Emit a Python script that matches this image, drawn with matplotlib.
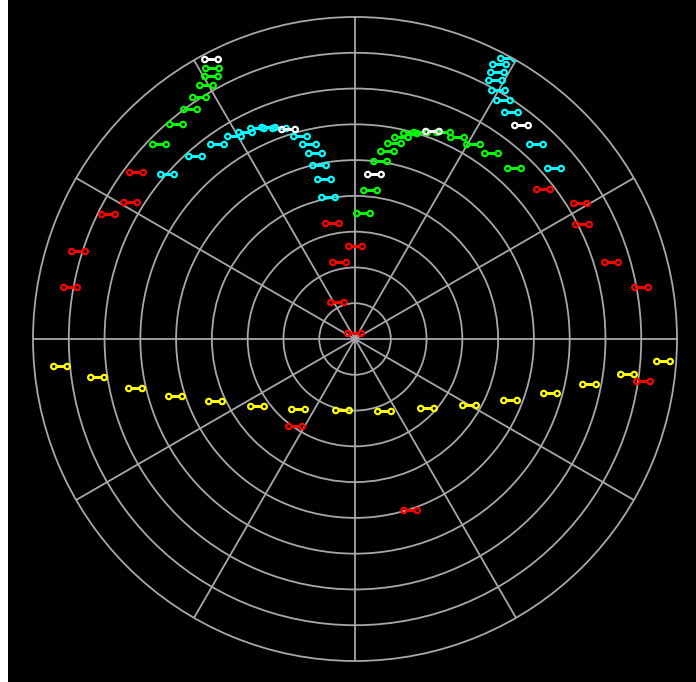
import numpy as np
import matplotlib
matplotlib.use("Agg")
import matplotlib.pyplot as plt
from matplotlib.path import Path
from matplotlib.patches import Rectangle

# angle in degrees (counter-clockwise from east), radius 0..90
red_theta = [142.6, 148.6, 153.1, 162.4, 169.7, 101.4, 90.0, 101.7, 115.7, 95.0,
             38.6, 31.2, 26.9, 16.8, 10.3, 351.8, 235.4, 287.8]
red_r = [77.0, 73.7, 77.5, 81.1, 81.0, 33.2, 26.1, 22.1, 11.4, 1.7,
         67.2, 73.5, 71.2, 74.7, 81.2, 81.4, 29.5, 50.2]

yellow_theta = [185.2, 188.4, 192.5, 197.6, 204.0, 214.4, 231.1, 259.7,
                292.0, 316.0, 330.0, 338.4, 344.4, 349.1, 352.7, 355.9]
yellow_r = [82.8, 73.0, 63.0, 52.8, 42.8, 33.3, 25.2, 20.3,
            21.6, 27.9, 36.9, 46.6, 56.6, 66.7, 76.7, 86.4]

green_theta = [117.7, 118.7, 120.4, 122.7, 125.6, 129.8, 135.1,
               47.0, 53.8, 58.9, 63.3, 66.9, 72.6, 75.0, 77.2, 78.8,
               80.3, 81.9, 84.2, 86.2]
green_r = [85.7, 83.9, 82.3, 80.5, 79.0, 78.1, 77.3,
           65.2, 64.3, 63.7, 63.2, 62.9, 60.7, 59.5, 57.9, 55.9,
           53.3, 50.2, 41.8, 35.2]

cyan_theta = [138.8, 131.2, 125.3, 120.8, 117.9, 114.9, 112.3, 109.7, 105.2,
              103.2, 102.2, 101.6, 100.9, 100.9,
              61.6, 62.3, 62.0, 61.6, 60.1, 58.3, 55.6, 47.1, 40.6]
cyan_r = [70.0, 68.1, 66.8, 66.0, 65.6, 65.1, 63.9, 62.7, 58.7,
          56.0, 53.1, 49.7, 45.6, 40.3,
          89.2, 86.7, 84.4, 82.2, 80.3, 78.5, 77.0, 74.4, 73.3]

white_theta = [117.2, 107.7, 52.2, 69.7, 83.3]
white_r = [87.9, 61.6, 75.6, 62.0, 46.4]

# dumbbell marker: two open circles joined by a short bar
c1 = Path.circle((-1.0, 0.0), 0.4)
c2 = Path.circle((1.0, 0.0), 0.4)
bar = Path([(-0.6, 0.0), (0.6, 0.0)], [Path.MOVETO, Path.LINETO])
dumbbell = Path.make_compound_path(c1, c2, bar)

fig = plt.figure(figsize=(6.96, 6.82), dpi=100, facecolor="black")
fig.patches.append(Rectangle((0, 0), 8 / 696, 1, transform=fig.transFigure,
                             facecolor="white", edgecolor="none"))
ax = fig.add_axes([33 / 696, 21 / 682, 644 / 696, 644 / 682], projection="polar")
ax.set_facecolor("black")

series = [(red_theta, red_r, "#ff0000"),
          (yellow_theta, yellow_r, "#ffff00"),
          (green_theta, green_r, "#00ff00"),
          (cyan_theta, cyan_r, "#00ffff"),
          (white_theta, white_r, "#ffffff")]
for th, r, col in series:
    ax.plot(np.radians(th), r, linestyle="none", marker=dumbbell,
            markersize=13.5, markerfacecolor="none", markeredgecolor=col,
            markeredgewidth=1.6)

ax.set_ylim(0, 90)
ax.set_rgrids(np.arange(10, 90, 10))
ax.set_thetagrids(np.arange(0, 360, 30))
ax.set_xticklabels([])
ax.set_yticklabels([])
ax.grid(True, color="#a8a8a8", linewidth=1.3)
ax.spines["polar"].set_color("#a8a8a8")
ax.spines["polar"].set_linewidth(1.3)

fig.savefig("out.png", dpi=100, facecolor=fig.get_facecolor())
